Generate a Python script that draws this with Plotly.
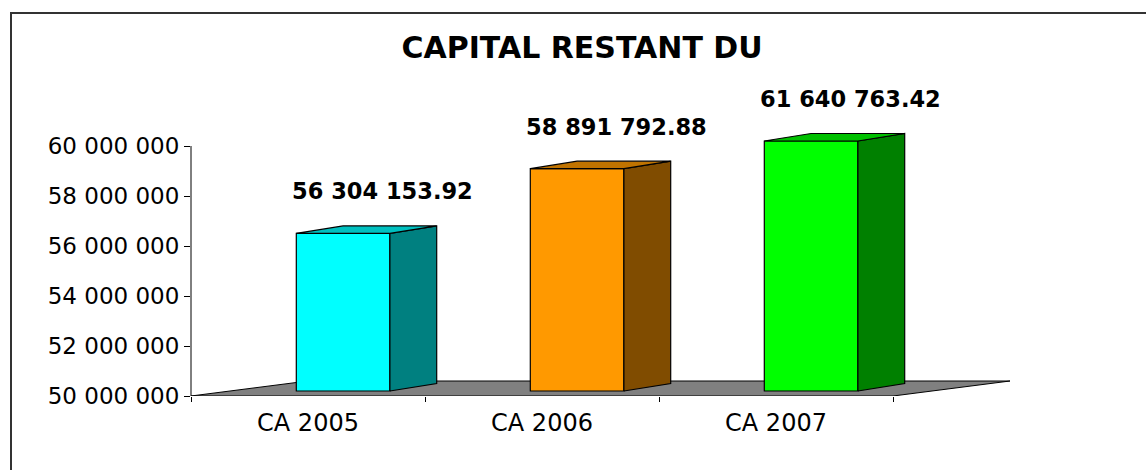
import plotly.graph_objects as go

# ---------------- data ----------------
categories = ["CA 2005", "CA 2006", "CA 2007"]
values = [56304153.92, 58891792.88, 61640763.42]
value_labels = ["56 304 153.92", "58 891 792.88", "61 640 763.42"]
y_tick_values = [50e6, 52e6, 54e6, 56e6, 58e6, 60e6]
y_tick_labels = ["50 000 000", "52 000 000", "54 000 000", "56 000 000", "58 000 000", "60 000 000"]
front_colors = ["#00FFFF", "#FF9900", "#00FF00"]
side_colors = ["#008080", "#804C00", "#008000"]
top_colors = ["#00C0C0", "#C07300", "#00C000"]

# ---------------- layout geometry ----------------
W, H = 1146, 470
ML, MR, MT, MB = 191, 0, 0, 74
plot_w = W - ML - MR
plot_h = H - MT - MB
cat_px = 234.0                  # pixels per category
y_min, y_max_axis = 50e6, 60e6  # value axis min / max (bars are capped at max)
px_y = 40000.0                  # value units per pixel
x_range = [-0.5, -0.5 + plot_w / cat_px]
y_range = [y_min, y_min + plot_h * px_y]

# 3D pseudo-depth (in data units)
front_dx, front_dy = 0.15, 5 * px_y      # bar front face offset from axis plane
depth_dx, depth_dy = 0.20, 7.5 * px_y    # bar depth
floor_dx, floor_dy = 0.50, 15 * px_y     # floor depth
half_w = 0.20

fig = go.Figure()

# bar front faces
tops = [min(v, y_max_axis) for v in values]
fig.add_trace(go.Bar(
    x=[i + front_dx for i in range(len(categories))],
    y=[t - y_min for t in tops],
    base=[y_min + front_dy] * len(categories),
    width=2 * half_w,
    marker=dict(color=front_colors, line=dict(color="black", width=1.2)),
    hoverinfo="skip", showlegend=False,
))

# side and top faces
for i, t in enumerate(tops):
    xl = i + front_dx - half_w
    xr = i + front_dx + half_w
    b = y_min + front_dy
    tt = t + front_dy
    fig.add_trace(go.Scatter(
        x=[xr, xr + depth_dx, xr + depth_dx, xr, xr],
        y=[b, b + depth_dy, tt + depth_dy, tt, b],
        mode="lines", fill="toself", fillcolor=side_colors[i],
        line=dict(color="black", width=1.2), hoverinfo="skip", showlegend=False))
    fig.add_trace(go.Scatter(
        x=[xl, xr, xr + depth_dx, xl + depth_dx, xl],
        y=[tt, tt, tt + depth_dy, tt + depth_dy, tt],
        mode="lines", fill="toself", fillcolor=top_colors[i],
        line=dict(color="black", width=1.2), hoverinfo="skip", showlegend=False))

# floor (below traces)
n = len(categories)
fl = -0.5
fr = n - 0.5
fig.add_shape(type="path", layer="below", xref="x", yref="y",
              path=f"M {fl},{y_min} L {fr},{y_min} L {fr + floor_dx},{y_min + floor_dy} "
                   f"L {fl + floor_dx},{y_min + floor_dy} Z",
              fillcolor="#808080", line=dict(color="black", width=1))

# value axis line (only 50M..60M)
fig.add_shape(type="line", xref="paper", yref="y", x0=0, x1=0, y0=y_min, y1=y_max_axis,
              line=dict(color="black", width=1))

# data labels
for i, t in enumerate(tops):
    fig.add_annotation(x=i + front_dx + 0.17, y=t + front_dy + 42 * px_y,
                       text=value_labels[i], showarrow=False,
                       xanchor="center", yanchor="middle",
                       font=dict(family="DejaVu Sans", size=22.5, color="black", weight="bold"))

# chart border (top & left edges visible)
fig.add_shape(type="rect", xref="paper", yref="paper",
              x0=(11 - ML) / plot_w, x1=(W + 20 - ML) / plot_w,
              y0=-(H + 20 - MT - plot_h) / plot_h, y1=1 - (13 - MT) / plot_h,
              line=dict(color="#333333", width=2), fillcolor="rgba(0,0,0,0)", layer="above")

fig.update_layout(
    width=W, height=H, autosize=False,
    margin=dict(l=ML, r=MR, t=MT, b=MB, pad=0),
    paper_bgcolor="white", plot_bgcolor="white",
    title=dict(text="CAPITAL RESTANT DU", x=582 / W, xref="container", xanchor="center",
               y=1 - 47 / H, yref="container", yanchor="middle",
               font=dict(family="DejaVu Sans", size=30, color="black", weight="bold")),
    xaxis=dict(range=x_range, tickvals=list(range(n)), ticktext=categories,
               ticks="", showline=False, showgrid=False, zeroline=False,
               ticklabelstandoff=10,
               tickfont=dict(family="DejaVu Sans", size=24, color="black"),
               minor=dict(tickvals=[k - 0.5 for k in range(n + 1)], ticks="outside",
                          ticklen=5, tickcolor="black", tickwidth=1, showgrid=False),
               fixedrange=True),
    yaxis=dict(range=y_range, tickvals=y_tick_values, ticktext=y_tick_labels,
               ticks="outside", ticklen=6, tickcolor="black", tickwidth=1,
               showline=False, showgrid=False, zeroline=False,
               tickfont=dict(family="DejaVu Sans", size=23, color="black"),
               fixedrange=True),
    barmode="overlay",
)

fig.write_html("out.html", config={"displayModeBar": False},
               post_script="document.body.style.margin='0';document.body.style.overflow='hidden';")
